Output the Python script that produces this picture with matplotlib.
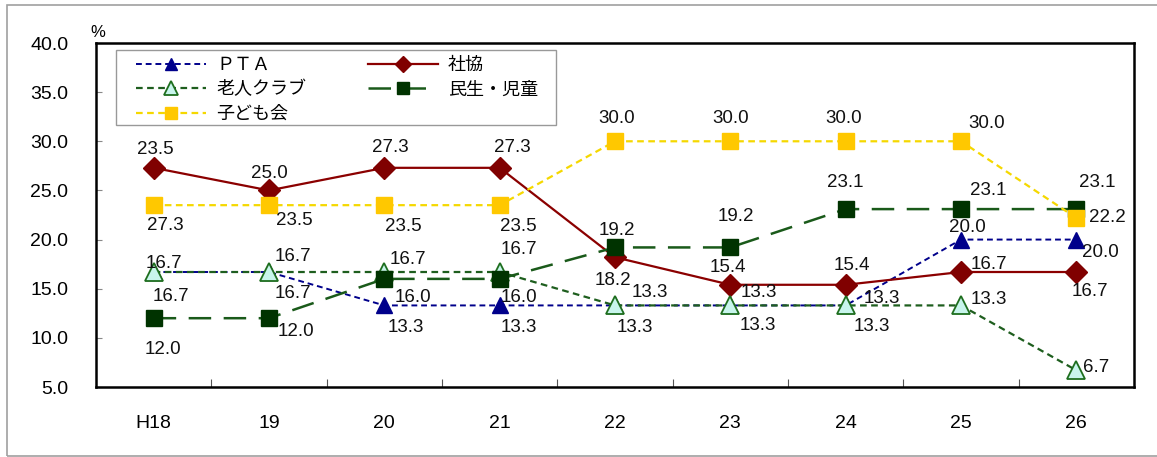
import matplotlib
matplotlib.use("Agg")
import matplotlib.pyplot as plt
from matplotlib.patches import Rectangle
from matplotlib.ticker import FixedLocator

plt.rcParams['font.family'] = ['Liberation Sans', 'Noto Sans CJK JP', 'DejaVu Sans']

categories = ["H18", "19", "20", "21", "22", "23", "24", "25", "26"]

pta = [16.7, 16.7, 13.3, 13.3, 13.3, 13.3, 13.3, 20.0, 20.0]
shakyo = [27.3, 25.0, 27.3, 27.3, 18.2, 15.4, 15.4, 16.7, 16.7]
roujin = [16.7, 16.7, 16.7, 16.7, 13.3, 13.3, 13.3, 13.3, 6.7]
minsei = [12.0, 12.0, 16.0, 16.0, 19.2, 19.2, 23.1, 23.1, 23.1]
kodomo = [23.5, 23.5, 23.5, 23.5, 30.0, 30.0, 30.0, 30.0, 22.2]

# data label texts as printed in the original chart
pta_labels = ["16.7", "16.7", "13.3", "13.3", "13.3", "13.3", "13.3", "20.0", "20.0"]
shakyo_labels = ["23.5", "25.0", "27.3", "27.3", "18.2", "15.4", "15.4", "16.7", "16.7"]
roujin_labels = ["16.7", "16.7", "16.7", "16.7", "13.3", "13.3", "13.3", "13.3", "6.7"]
minsei_labels = ["12.0", "12.0", "16.0", "16.0", "19.2", "19.2", "23.1", "23.1", "23.1"]
kodomo_labels = ["27.3", "23.5", "23.5", "23.5", "30.0", "30.0", "30.0", "30.0", "22.2"]

# label offsets in pixels (dx, dy) from each point
pta_off = [(17, -24), (24, -21), (21, -22), (19, -22), (35, 13), (28, 13), (36, 7), (6, 12), (24, -13)]
shakyo_off = [(2, 18), (0, 17), (6, 20), (13, 20), (-2, -23), (-2, 17), (6, 19), (28, 8), (14, -19)]
roujin_off = [(10, 9), (24, 16), (24, 13), (19, 23), (20, -22), (27, -20), (26, -21), (28, 6), (20, 3)]
minsei_off = [(9, -31), (27, -13), (29, -19), (19, -19), (2, 17), (6, 31), (0, 27), (27, 19), (21, 27)]
kodomo_off = [(12, -20), (25, -15), (19, -21), (19, -21), (2, 23), (0, 23), (-2, 23), (26, 18), (31, 0)]

W, H = 1157, 457
fig = plt.figure(figsize=(W / 100, H / 100), dpi=100)
fig.patches.append(Rectangle((7 / W, 1 - 456 / H), 1.2, (456 - 5) / H, transform=fig.transFigure,
                             fill=False, edgecolor='#a0a0a0', linewidth=1.2))

AX_L, AX_R, AX_T, AX_B = 96, 1134, 43, 387
AW, AH = AX_R - AX_L, AX_B - AX_T
ax = fig.add_axes([AX_L / W, 1 - AX_B / H, AW / W, AH / H])
x = list(range(len(categories)))

series = [
    ("ＰＴＡ", pta, pta_labels, pta_off,
     dict(color='#00008B', linestyle=(0, (3, 2)), linewidth=1.4, marker='^', markersize=11,
          markerfacecolor='#00008B', markeredgecolor='#00008B')),
    ("社協", shakyo, shakyo_labels, shakyo_off,
     dict(color='#8B0000', linestyle='-', linewidth=1.6, marker='D', markersize=11,
          markerfacecolor='#800000', markeredgecolor='#800000')),
    ("老人クラブ", roujin, roujin_labels, roujin_off,
     dict(color='#1E5E1E', linestyle=(0, (3, 2)), linewidth=1.6, marker='^', markersize=13,
          markerfacecolor='#C8F5EC', markeredgecolor='#1E6E1E', markeredgewidth=1.3)),
    ("民生・児童", minsei, minsei_labels, minsei_off,
     dict(color='#1A5A1A', linestyle=(0, (9, 5)), linewidth=1.8, marker='s', markersize=11,
          markerfacecolor='#003300', markeredgecolor='#003300')),
    ("子ども会", kodomo, kodomo_labels, kodomo_off,
     dict(color='#F5D800', linestyle=(0, (3, 2)), linewidth=1.6, marker='s', markersize=11,
          markerfacecolor='#FFC800', markeredgecolor='#FFC800')),
]

handles = {}
for name, vals, labs, offs, style in series:
    ln, = ax.plot(x, vals, label=name, **style)
    handles[name] = ln
    for xi, v, t, (dx, dy) in zip(x, vals, labs, offs):
        ax.annotate(t, xy=(xi, v), xytext=(dx, dy), textcoords='offset pixels',
                    ha='center', va='center', fontsize=13.5, color='#111111', zorder=10)

ax.set_xlim(-0.5, len(categories) - 0.5)
ax.set_ylim(5, 40)
yt = [5, 10, 15, 20, 25, 30, 35, 40]
ax.set_yticks(yt)
ax.set_yticklabels([f"{v:.1f}" for v in yt])
ax.set_xticks(x)
ax.set_xticklabels(categories)
ax.xaxis.set_minor_locator(FixedLocator([i + 0.5 for i in range(len(categories) - 1)]))
ax.tick_params(axis='x', which='major', length=0, pad=20, labelsize=14)
ax.tick_params(axis='x', which='minor', direction='in', length=6, color='#555555', width=0.8)
ax.tick_params(axis='y', which='major', direction='in', length=4, color='#888888', width=0.8,
               pad=20, labelsize=14)
for sp in ax.spines.values():
    sp.set_linewidth(1.8)
    sp.set_color('black')

ax.text(0.002, 1.01, "%", transform=ax.transAxes, ha='center', va='bottom', fontsize=12)

# legend frame
ax.add_patch(Rectangle(((116 - AX_L) / AW, 1 - (125 - AX_T) / AH), 440 / AW, 75 / AH,
                       transform=ax.transAxes, facecolor='white', edgecolor='#999999',
                       linewidth=1.0, zorder=19, clip_on=False))

order = ["ＰＴＡ", "老人クラブ", "子ども会", "社協", "民生・児童"]
leg = ax.legend([handles[n] for n in order], order, ncol=2, loc='upper left',
                bbox_to_anchor=((136 - AX_L) / AW, 1 - (56 - AX_T) / AH),
                frameon=False, prop={'family': ['Noto Sans CJK JP'], 'size': 13},
                handlelength=3.9, labelspacing=0.36, borderaxespad=0, borderpad=0,
                columnspacing=3.4, handletextpad=0.55, markerscale=0.75)
leg.set_zorder(20)

fig.savefig("out.png", dpi=100)
